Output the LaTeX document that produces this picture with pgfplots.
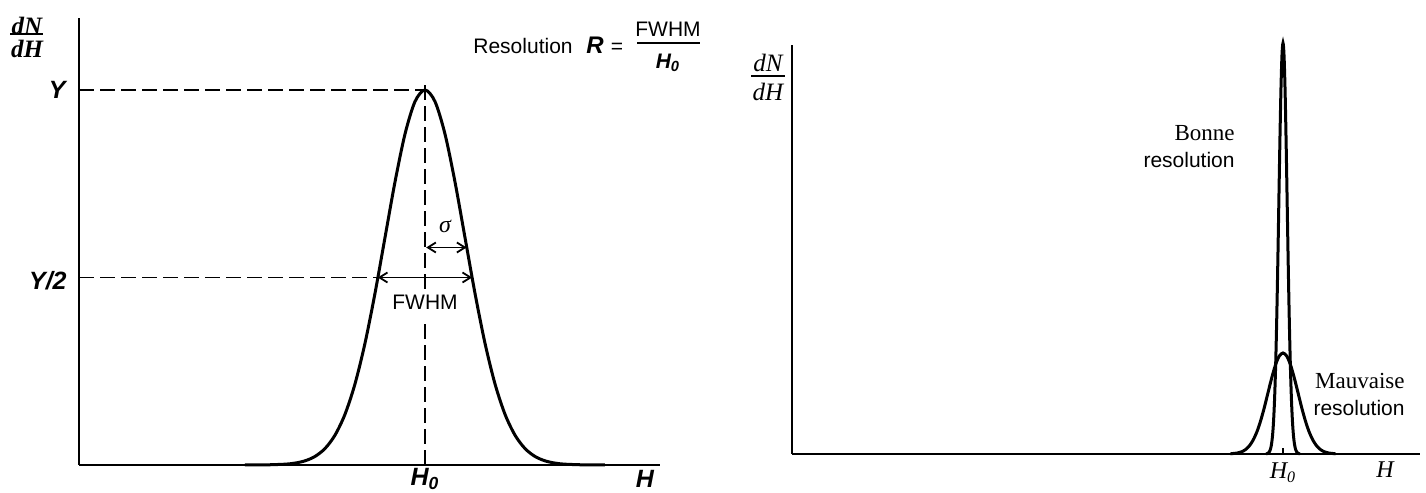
\documentclass[border=0pt]{standalone}
\usepackage{pgfplots}
\pgfplotsset{compat=1.18}
\usepackage{pgfplotstable}
\usepackage{fontspec}
\setmainfont{Liberation Sans}
\newfontfamily\serif{Liberation Serif}
\usetikzlibrary{arrows.meta}

\pgfplotstableread{
x y
-4.5 0.0000
-4.0 0.0003
-3.5 0.0022
-3.25 0.0051
-3.0 0.0111
-2.75 0.0228
-2.5 0.0439
-2.25 0.0796
-2.0 0.1353
-1.75 0.2163
-1.5 0.3247
-1.25 0.4578
-1.0 0.6065
-0.75 0.7548
-0.5 0.8825
-0.25 0.9692
0 1.0000
0.25 0.9692
0.5 0.8825
0.75 0.7548
1.0 0.6065
1.25 0.4578
1.5 0.3247
1.75 0.2163
2.0 0.1353
2.25 0.0796
2.5 0.0439
2.75 0.0228
3.0 0.0111
3.25 0.0051
3.5 0.0022
4.0 0.0003
4.5 0.0000
}\leftpeak

\pgfplotstableread{
x y
-16.8 0.1
-14.7 0.9
-13.65 2.1
-12.6 4.6
-11.55 9.4
-10.5 18.0
-9.45 32.7
-8.4 55.6
-7.35 88.9
-6.3 133.5
-5.25 188.2
-4.2 249.3
-3.15 310.2
-2.1 362.7
-1.05 398.3
0 411
1.05 398.3
2.1 362.7
3.15 310.2
4.2 249.3
5.25 188.2
6.3 133.5
7.35 88.9
8.4 55.6
9.45 32.7
10.5 18.0
11.55 9.4
12.6 4.6
13.65 2.1
14.7 0.9
16.8 0.1
}\narrowpeak

\pgfplotstableread{
x y
-52.5 0.2
-45 1.1
-41.25 2.3
-37.5 4.4
-33.75 8.0
-30 13.7
-26.25 21.8
-22.5 32.8
-18.75 46.2
-15 61.3
-11.25 76.2
-7.5 89.1
-3.75 97.9
0 101
3.75 97.9
7.5 89.1
11.25 76.2
15 61.3
18.75 46.2
22.5 32.8
26.25 21.8
30 13.7
33.75 8.0
37.5 4.4
41.25 2.3
45 1.1
52.5 0.2
}\widepeak

\tikzset{
  dashl/.style={line width=0.8pt, dash pattern=on 7.5pt off 3pt},
  dimarrow/.style={line width=0.9pt, {Straight Barb[length=4pt,width=5pt]}-{Straight Barb[length=4pt,width=5pt]}},
}

\begin{document}
\fontsize{10.5}{12}\selectfont
\begin{tikzpicture}
\path[use as bounding box] (0,0) rectangle (713pt,246.5pt);

% ---------- left panel ----------
\begin{axis}[at={(39.5pt,14pt)}, anchor=south west, scale only axis,
  width=290.5pt, height=223.5pt,
  xmin=-8.65, xmax=5.875, ymin=0, ymax=1.192,
  axis lines*=left, axis line style={line width=1.1pt},
  xtick=\empty, ytick=\empty, clip=false]
\addplot[smooth, line width=1.5pt] table {\leftpeak};
\draw[dashl] (axis cs:-8.65,1) -- (axis cs:0,1);
\draw[dashl] (axis cs:-8.65,0.5) -- (axis cs:-1.18,0.5);
\draw[dashl] (axis cs:0,0) -- (axis cs:0,0.38);
\draw[dashl] (axis cs:0,0.47) -- (axis cs:0,1.03);
\draw[dimarrow] (axis cs:-1.18,0.5) -- (axis cs:1.18,0.5);
\draw[dimarrow] (axis cs:0.03,0.58) -- (axis cs:1.04,0.58);
\end{axis}

% ---------- right panel ----------
\begin{axis}[at={(396pt,19.5pt)}, anchor=south west, scale only axis,
  width=314pt, height=204.5pt,
  xmin=-491, xmax=137, ymin=0, ymax=409,
  axis lines*=left, axis line style={line width=1.4pt},
  xtick={0}, xticklabels={}, major tick length=3pt, tick align=inside,
  tick style={line width=0.6pt, black},
  ytick=\empty, clip=false]
\addplot[smooth, line width=1.5pt] table {\widepeak};
\addplot[smooth, line width=1.5pt] table {\narrowpeak};
\end{axis}

% ---------- labels (pixel coordinates) ----------
\begin{scope}[x=0.5pt, y=-0.5pt, shift={(0pt,246.5pt)}]
% left dN/dH
\node[font=\serif\bfseries\itshape\fontsize{12.5}{12}\selectfont] at (27,26) {dN};
\draw[line width=0.8pt] (10,34) -- (43,34);
\node[font=\serif\bfseries\itshape\fontsize{12.5}{12}\selectfont] at (27,49) {dH};
% Y labels
\node[anchor=east, font=\bfseries\itshape\fontsize{12.5}{14}\selectfont] at (73,90) {Y};
\node[anchor=east, font=\bfseries\itshape\fontsize{12.5}{14}\selectfont] at (74,281) {Y/2};
\node[font=\serif\itshape\fontsize{12}{12}\selectfont] at (445,226) {σ};
\node at (425,302) {FWHM};
\node[font=\bfseries\itshape\fontsize{12.5}{14}\selectfont] at (425,479) {H\textsubscript{0}};
\node[font=\bfseries\itshape\fontsize{12.5}{14}\selectfont] at (645,479) {H};
% resolution formula
\node[anchor=base west] at (466,54) {Resolution};
\node[anchor=base, font=\bfseries\itshape\fontsize{12}{14}\selectfont] at (595,54) {R};
\node[anchor=base] at (617,54) {=};
\node at (668,29) {FWHM};
\draw[line width=0.7pt] (637,43) -- (700,43);
\node[font=\bfseries\itshape] at (668,63) {H\textsubscript{0}};
% right dN/dH
\node[font=\serif\itshape\fontsize{12.5}{12}\selectfont] at (768,63) {dN};
\draw[line width=0.7pt] (751,76) -- (785,76);
\node[font=\serif\itshape\fontsize{12.5}{12}\selectfont] at (768,92) {dH};
% right annotations
\node[anchor=east, font=\serif\fontsize{11.5}{12}\selectfont] at (1242,133) {Bonne};
\node[anchor=east] at (1242,160) {resolution};
\node[anchor=east, font=\serif\fontsize{11.5}{12}\selectfont] at (1412,381) {Mauvaise};
\node[anchor=east] at (1412,408) {resolution};
\node[font=\serif\itshape\fontsize{12}{14}\selectfont] at (1283,473) {H\textsubscript{0}};
\node[font=\serif\itshape\fontsize{12}{14}\selectfont] at (1385,470) {H};
\end{scope}
\end{tikzpicture}
\end{document}
